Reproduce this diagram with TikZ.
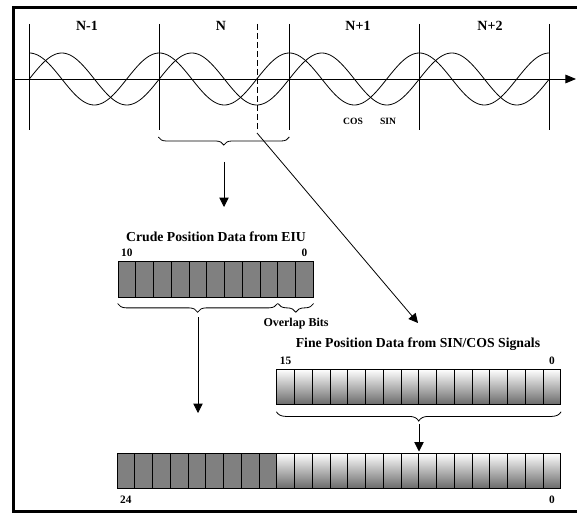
\documentclass[tikz,border=0pt]{standalone}
\usepackage{fontspec}
\setmainfont{Liberation Serif}
\usepackage{tikz}
\usetikzlibrary{calc,positioning,arrows.meta,decorations.pathreplacing}
\definecolor{bitgray}{RGB}{128,128,128}
\definecolor{shadegray}{RGB}{105,105,105}

\begin{document}
\begin{tikzpicture}[x=0.75pt,y=-0.75pt,
  cell/.style={draw, rectangle, inner sep=0pt, minimum width=13.31pt, minimum height=26.6pt, line width=0.5pt},
  crudecell/.style={cell, fill=bitgray},
  finecell/.style={cell, top color=white, bottom color=shadegray},
  celltxt/.style={inner sep=0pt, font=\bfseries\fontsize{10.5}{12}\selectfont},
  regtitle/.style={inner sep=0pt, font=\bfseries\fontsize{10.3}{12}\selectfont},
  bitno/.style={inner sep=0pt, font=\bfseries\fontsize{8.5}{10}\selectfont},
  sigtxt/.style={inner sep=0pt, font=\bfseries\fontsize{7.2}{9}\selectfont},
  brc/.style={decorate, decoration={brace, mirror, amplitude=#1}, line width=0.6pt},
  arr/.style={-{Triangle[width=7pt,length=7pt]}, line width=0.6pt}]
  \useasboundingbox (0,0) rectangle (577,513);
  \draw[line width=2.25pt] (577,8) -- (13,8) -- (13,511.5) -- (577,511.5);

  % signals
  \coordinate (ax0) at (13,79);
  \coordinate (ax1) at (576,79);
  \draw[-{Triangle[width=6.5pt,length=8pt]}, line width=0.7pt] (ax0) -- (ax1);
  \foreach \k in {0,...,4}
    \draw[line width=0.5pt] ({29.3+130*\k},24) -- ++(0,106);
  \draw[line width=0.5pt, dash pattern=on 4.5pt off 2.25pt] (257,24) -- (257,130);
  \draw[line width=0.6pt] plot[domain=0:4, samples=241, smooth] ({29.3+130*\x},{79-26*cos(360*\x)});
  \draw[line width=0.6pt] plot[domain=0:4, samples=241, smooth] ({29.3+130*\x},{79-26*sin(360*\x)});
  \node[celltxt] (n1) at (87,26) {N-1};
  \node[celltxt] (n2) at (221,26) {N};
  \node[celltxt] (n3) at (358,26) {N+1};
  \node[celltxt] (n4) at (490,26) {N+2};
  \node[sigtxt] (cos) at (353,121) {COS};
  \node[sigtxt] (sin) at (388,121) {SIN};
  \draw[brc=6pt] (158.3,137) -- (289.3,137);

  % crude register
  \node[regtitle] (crudet) at (216,237) {Crude Position Data from EIU};
  \foreach \i in {0,...,10}
    \node[crudecell] (c\i) at ({118+17.75*(10-\i)+8.875},279.2) {};
  \node[bitno, above=3pt of c10] {10};
  \node[bitno, above=3pt of c0] {0};
  \draw[brc=6.5pt] ([yshift=-4.7pt]c10.south west) -- ([yshift=-4.7pt,xshift=-0.4pt]c2.south east);
  \draw[brc=6.5pt] ([yshift=-4.7pt,xshift=0.4pt]c1.south west) -- ([yshift=-4.7pt]c0.south east);
  \node[bitno, font=\bfseries\fontsize{9}{10}\selectfont] (ovl) at (296,324) {Overlap Bits};

  % fine register
  \node[regtitle] (finet) at (418,344) {Fine Position Data from SIN/COS Signals};
  \foreach \i in {0,...,15}
    \node[finecell] (f\i) at ({276.75+17.75*(15-\i)+8.875},387) {};
  \node[bitno, above=3pt of f15] {15};
  \node[bitno, above=3pt of f0] {0};
  \draw[brc=7pt] ([yshift=-5pt]f15.south west) -- ([yshift=-5pt]f0.south east);

  % result register
  \foreach \i in {0,...,24}{
    \ifnum\i>15
      \node[crudecell] (r\i) at ({117+17.75*(24-\i)+8.875},470.8) {};
    \else
      \node[finecell] (r\i) at ({117+17.75*(24-\i)+8.875},470.8) {};
    \fi
  }
  \node[bitno, below=5pt of r24] {24};
  \node[bitno, below=5pt of r0] {0};

  % arrows
  \coordinate (bN) at (224,162);
  \coordinate (bNend) at (224,207);
  \coordinate (dsh) at (257,133);
  \coordinate (dshend) at (418,323);
  \coordinate (bC) at (198,317);
  \coordinate (bCend) at (198,413);
  \coordinate (bF) at (419,424);
  \coordinate (bFend) at (419,451.5);
  \draw[arr] (bN) -- (bNend);
  \draw[arr] (dsh) -- (dshend);
  \draw[arr] (bC) -- (bCend);
  \draw[arr] (bF) -- (bFend);
\end{tikzpicture}
\end{document}
